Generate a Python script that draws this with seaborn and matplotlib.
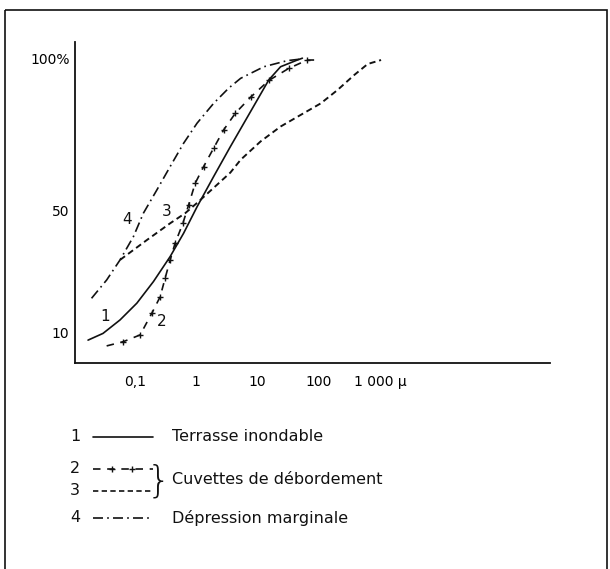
import numpy as np
import pandas as pd
import matplotlib
matplotlib.use("Agg")
import matplotlib.pyplot as plt
import seaborn as sns
from matplotlib.ticker import NullLocator
from matplotlib.patches import Rectangle

# ----------------------------
# Data
# ----------------------------
# 1 - Terrasse inondable (solid)
c1_x = [0.0171, 0.030, 0.0568, 0.107, 0.20, 0.375, 0.62, 1.03, 1.92, 3.6, 15.3, 23.8, 44.7, 54]
c1_y = [7.6, 9.8, 14.2, 19.7, 26.8, 35.0, 42.6, 51.3, 61.2, 71.0, 92.9, 97.2, 99.4, 100]

# 2 - Cuvettes de debordement (dash with +)
c2_x = [0.0344, 0.0645, 0.121, 0.188, 0.257, 0.31, 0.375, 0.45, 0.605, 0.75, 0.96, 1.32,
        1.92, 2.8, 4.36, 7.7, 15.3, 32.6, 65, 84]
c2_y = [5.7, 7.1, 9.3, 16.4, 21.8, 27.9, 33.9, 39.3, 45.9, 51.9, 59.0, 64.5,
        70.5, 76.5, 82.0, 87.2, 92.7, 96.7, 99.4, 99.4]

# 3 - Cuvettes de debordement (dashed)
c3_x = [0.057, 0.156, 0.375, 0.66, 1.09, 1.92, 3.6, 5.3, 11.2, 23.8, 57, 108, 203, 380, 630, 1040]
c3_y = [33.9, 40.4, 45.9, 49.2, 53.0, 57.5, 62.5, 66.7, 72.7, 77.6, 82.0, 85.2, 89.6, 94.5, 98.1, 99.4]

# 4 - Depression marginale (dash-dot)
c4_x = [0.0195, 0.0344, 0.057, 0.094, 0.137, 0.227, 0.375, 0.62, 1.03, 1.92, 3.39, 5.3, 12.7, 30.6, 50.6]
c4_y = [21.3, 27.3, 33.9, 41.5, 49.2, 56.8, 64.5, 72.1, 78.7, 85.2, 90.2, 93.4, 97.2, 99.2, 99.7]

# curve number labels
lab_txt = ["1", "2", "3", "4"]
lab_x = [0.032, 0.274, 0.331, 0.0748]
lab_y = [15.3, 13.6, 49.7, 47.0]

xticks = [0.1, 1, 10, 100, 1000]
xtick_labels = ["0,1", "1", "10", "100", "1 000 \u03bc"]
yticks = [10, 50, 100]
ytick_labels = ["10", "50", "100%"]

legend_num = ["1", "2", "3", "4"]
legend_txt = ["Terrasse inondable", "Cuvettes de débordement", "Dépression marginale"]

# ----------------------------
# Style
# ----------------------------
sns.set_theme(style="white")
plt.rcParams["font.family"] = ["DejaVu Sans"]
plt.rcParams["axes.edgecolor"] = "black"
plt.rcParams["text.color"] = "black"
plt.rcParams["xtick.color"] = "black"
plt.rcParams["ytick.color"] = "black"

ink = "#111111"
lw = 1.2
ls_plus = (0, (4.5, 4.0))
ls_dash = (0, (3.2, 2.0))
ls_dashdot = (0, (6, 2.5, 1, 2.5))

fig = plt.figure(figsize=(6.10, 5.69), dpi=100)
ax = fig.add_axes([0.123, 0.3615, 0.7787, 0.5652])

df1 = pd.DataFrame({"x": c1_x, "y": c1_y})
df2 = pd.DataFrame({"x": c2_x, "y": c2_y})
df3 = pd.DataFrame({"x": c3_x, "y": c3_y})
df4 = pd.DataFrame({"x": c4_x, "y": c4_y})

sns.lineplot(data=df1, x="x", y="y", ax=ax, color=ink, sort=False, estimator=None)
ax.lines[-1].set_linewidth(lw)

sns.lineplot(data=df2, x="x", y="y", ax=ax, color=ink, sort=False, estimator=None)
ax.lines[-1].set_linewidth(lw)
ax.lines[-1].set_linestyle(ls_plus)

sns.scatterplot(data=df2.iloc[1:-1], x="x", y="y", ax=ax, color=ink, marker="+",
                s=20, linewidth=1.0)

sns.lineplot(data=df3, x="x", y="y", ax=ax, color=ink, sort=False, estimator=None)
ax.lines[-1].set_linewidth(lw * 1.15)
ax.lines[-1].set_linestyle(ls_dash)

sns.lineplot(data=df4, x="x", y="y", ax=ax, color=ink, sort=False, estimator=None)
ax.lines[-1].set_linewidth(lw)
ax.lines[-1].set_linestyle(ls_dashdot)

for t, x, y in zip(lab_txt, lab_x, lab_y):
    ax.text(x, y, t, ha="center", va="center", fontsize=11, color=ink)

ax.set_xscale("log")
ax.set_xlim(0.01048, 5.97e5)
ax.set_ylim(0, 105.4)
ax.set_xticks(xticks)
ax.set_xticklabels(xtick_labels, fontsize=10)
ax.xaxis.set_minor_locator(NullLocator())
ax.set_yticks(yticks)
ax.set_yticklabels(ytick_labels, fontsize=10)
ax.tick_params(axis="x", direction="out", length=2.5, width=0.8, pad=6)
ax.tick_params(axis="y", direction="in", length=5.5, width=1.0, pad=4)
ax.set_xlabel("")
ax.set_ylabel("")
for s in ["top", "right"]:
    ax.spines[s].set_visible(False)
for s in ["left", "bottom"]:
    ax.spines[s].set_linewidth(1.3)
    ax.spines[s].set_color(ink)

# ----------------------------
# Legend block (drawn in pixel coords of the figure)
# ----------------------------
lg = fig.add_axes([0, 0, 1, 1], facecolor="none")
lg.set_xlim(0, 610)
lg.set_ylim(569, 0)
lg.axis("off")

num_x = 75
ln_x = [93, 153]
txt_x = 172
rows_y = [436.5, 468.5, 490.5, 517.5]
styles = [dict(linestyle="-"),
          dict(linestyle=ls_plus),
          dict(linestyle=ls_dash),
          dict(linestyle=ls_dashdot)]

for n, y, st in zip(legend_num, rows_y, styles):
    lg.text(num_x, y, n, ha="center", va="center", fontsize=11.5, color=ink)
    lg.plot(ln_x, [y, y], color=ink, lw=lw, **st)

# + marks on sample 2
lg.plot([112, 132], [rows_y[1]] * 2, ls="none", marker="+", ms=4.5, mew=1.0, color=ink)

lg.text(txt_x, rows_y[0], legend_txt[0], ha="left", va="center", fontsize=11.5, color=ink)
lg.text(txt_x, (rows_y[1] + rows_y[2]) / 2, legend_txt[1], ha="left", va="center",
        fontsize=11.5, color=ink)
lg.text(txt_x, rows_y[3], legend_txt[2], ha="left", va="center", fontsize=11.5, color=ink)
# brace joining 2 and 3
lg.text(159, (rows_y[1] + rows_y[2]) / 2 + 1, "}", ha="center", va="center", fontsize=27,
        color=ink, family="DejaVu Sans", fontweight="light")

# outer frame
lg.add_patch(Rectangle((4.5, 10), 602.5, 570, fill=False, edgecolor=ink, lw=1.2))

fig.savefig("out.png", dpi=100)
